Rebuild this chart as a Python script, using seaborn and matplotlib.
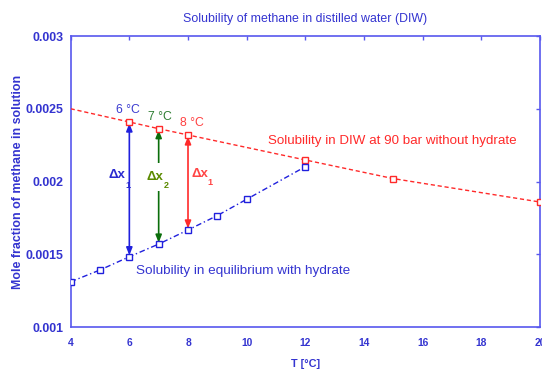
import matplotlib
matplotlib.use("Agg")
import matplotlib.pyplot as plt
import seaborn as sns

# Methane solubility in equilibrium with hydrate
T_hyd = [4, 5, 6, 7, 8, 9, 10, 12]
x_hyd = [0.001311, 0.001392, 0.001483, 0.001570, 0.001667, 0.001766, 0.001878, 0.002102]

# Methane solubility in DIW at 90 bar without hydrate
T_diw = [4, 6, 7, 8, 12, 15, 20]
x_diw = [0.0025, 0.002409, 0.002363, 0.002320, 0.002148, 0.002020, 0.001859]

# Temperatures where the driving force is marked
T_marks = [6, 7, 8]
mark_labels = ["6 °C", "7 °C", "8 °C"]
delta_labels = ["1", "2", "1"]

x_ticks = [4, 6, 8, 10, 12, 14, 16, 18, 20]
y_ticks = [0.001, 0.0015, 0.002, 0.0025, 0.003]
y_ticklabels = ["0.001", "0.0015", "0.002", "0.0025", "0.003"]

sns.set_style("white")
plt.rcParams["font.family"] = ["Liberation Sans", "DejaVu Sans"]

BLUE_TXT = "#3434d0"
BLUE_AX = "#5858ee"
BLUE_LN = "#2020dd"
RED = "#ff2a2a"
GREEN = "#0b6e0b"
mark_colors = [BLUE_LN, GREEN, RED]
label_colors = ["#3a3ad0", "#2e7d32", "#ff4040"]
delta_colors = ["#2a2ad0", "#5b8a00", "#ff4545"]

fig = plt.figure(figsize=(5.42, 3.69), dpi=100)
ax = fig.add_axes([0.1304, 0.1138, 0.8659, 0.7886])

sns.lineplot(x=T_diw, y=x_diw, ax=ax, color=RED, lw=1.0, dashes=False,
             linestyle=(0, (3, 2)), marker="s", markersize=4.5,
             markerfacecolor="white", markeredgecolor=RED, markeredgewidth=1.0,
             markevery=list(range(1, len(T_diw))), zorder=3)
sns.lineplot(x=T_hyd, y=x_hyd, ax=ax, color=BLUE_LN, lw=1.0, dashes=False,
             linestyle=(0, (4, 2, 1, 2)), marker="s", markersize=4.5,
             markerfacecolor="white", markeredgecolor=BLUE_LN, markeredgewidth=1.0,
             zorder=3)

for i, T in enumerate(T_marks):
    lo = x_hyd[T_hyd.index(T)]
    hi = x_diw[T_diw.index(T)]
    c = mark_colors[i]
    ax.annotate("", xy=(T, hi), xytext=(T, lo),
                arrowprops=dict(arrowstyle="<|-|>,head_length=0.45,head_width=0.18",
                                color=c, lw=1.2, shrinkA=1, shrinkB=1), zorder=2)

# Temperature labels above the upper curve
ax.text(5.96, 0.002491, mark_labels[0], color=label_colors[0], fontsize=8.8,
        ha="center", va="center")
ax.text(7.05, 0.002441, mark_labels[1], color=label_colors[1], fontsize=8.8,
        ha="center", va="center")
ax.text(8.13, 0.00240, mark_labels[2], color=label_colors[2], fontsize=8.8,
        ha="center", va="center")

# Delta-x labels beside the arrows
dx_pos = [(5.28, 0.002045, 5.85, 0.001976),
          (6.59, 0.002030, 7.16, 0.001975),
          (8.13, 0.002050, 8.66, 0.001990)]
for (tx, ty, sx, sy), sub, c in zip(dx_pos, delta_labels, delta_colors):
    is_mid = sub == "2"
    ax.text(tx, ty, "Δx", color=c, fontsize=9.5, fontweight="bold",
            ha="left", va="center", zorder=4,
            bbox=dict(facecolor="white", edgecolor="none", pad=5.5) if is_mid else None)
    ax.text(sx, sy, sub, color=c, fontsize=6.5, fontweight="bold",
            ha="left", va="center", zorder=5)

ax.text(10.74, 0.00228, "Solubility in DIW at 90 bar without hydrate",
        color=RED, fontsize=9.6, ha="left", va="center")
ax.text(6.23, 0.001387, "Solubility in equilibrium with hydrate",
        color=BLUE_TXT, fontsize=9.7, ha="left", va="center")

ax.set_xlim(4, 20)
ax.set_ylim(0.001, 0.003)
ax.set_xticks(x_ticks)
ax.set_xticklabels([str(v) for v in x_ticks])
ax.set_yticks(y_ticks)
ax.set_yticklabels(y_ticklabels)

for s in ax.spines.values():
    s.set_color(BLUE_AX)
    s.set_linewidth(1.2)
ax.tick_params(direction="in", length=3, width=1, color=BLUE_AX,
               top=True, right=True, labelcolor=BLUE_TXT)
ax.tick_params(axis="x", labelsize=7.4, pad=8)
ax.tick_params(axis="y", labelsize=8.9, pad=5)
for lab in ax.get_xticklabels() + ax.get_yticklabels():
    lab.set_fontweight("bold")

ax.set_title("Solubility of methane in distilled water (DIW)", color=BLUE_TXT,
             fontsize=8.9, pad=10)
ax.set_xlabel("T [°C]", color=BLUE_TXT, fontsize=7.8, fontweight="bold", labelpad=8)
ax.set_ylabel("Mole fraction of methane in solution", color=BLUE_TXT,
              fontsize=8.9, fontweight="bold", labelpad=1)

fig.savefig("out.png", dpi=100)
